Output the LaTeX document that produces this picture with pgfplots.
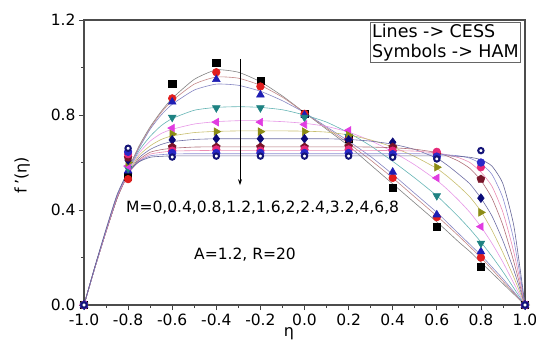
\documentclass[border=0pt]{standalone}
\usepackage{pgfplots}
\pgfplotsset{compat=1.18}
\usepackage{pgfplotstable}
\usepackage{fontspec}
\setmainfont{DejaVu Sans}
\usetikzlibrary{arrows.meta}

\definecolor{l0}{RGB}{130,130,130}
\definecolor{l1}{RGB}{195,135,135}
\definecolor{l2}{RGB}{135,135,195}
\definecolor{l3}{RGB}{100,180,180}
\definecolor{l4}{RGB}{230,150,230}
\definecolor{l5}{RGB}{200,190,110}
\definecolor{l6}{RGB}{110,110,165}
\definecolor{l7}{RGB}{175,110,120}
\definecolor{l8}{RGB}{235,140,180}
\definecolor{l9}{RGB}{140,140,210}
\definecolor{l10}{RGB}{100,100,150}

\definecolor{m0}{RGB}{0,0,0}
\definecolor{m1}{RGB}{225,30,30}
\definecolor{m2}{RGB}{30,30,180}
\definecolor{m3}{RGB}{30,130,130}
\definecolor{m4}{RGB}{225,60,225}
\definecolor{m5}{RGB}{140,140,20}
\definecolor{m6}{RGB}{10,10,120}
\definecolor{m7}{RGB}{120,20,40}
\definecolor{m8}{RGB}{230,40,120}
\definecolor{m9}{RGB}{40,40,200}
\definecolor{m10}{RGB}{20,20,120}

\pgfplotstableread{
x      c0    c1    c2    c3    c4    c5    c6    c7    c8    c9    c10
-1     0     0     0     0     0     0     0     0     0     0     0
-0.95  0.16  0.16  0.16  0.16  0.16  0.16  0.16  0.16  0.16  0.16  0.165
-0.9   0.31  0.31  0.31  0.31  0.31  0.31  0.31  0.31  0.31  0.315 0.32
-0.85  0.45  0.45  0.45  0.45  0.45  0.45  0.45  0.45  0.455 0.46  0.465
-0.8   0.57  0.57  0.565 0.56  0.56  0.555 0.55  0.55  0.55  0.555 0.56
-0.75  0.67  0.665 0.66  0.65  0.64  0.63  0.62  0.612 0.607 0.605 0.603
-0.7   0.75  0.745 0.74  0.71  0.69  0.67  0.655 0.643 0.635 0.628 0.622
-0.65  0.815 0.81  0.80  0.755 0.722 0.697 0.676 0.654 0.643 0.633 0.626
-0.6   0.87  0.86  0.845 0.785 0.74  0.712 0.688 0.66  0.648 0.636 0.628
-0.5   0.95  0.93  0.905 0.82  0.762 0.726 0.697 0.665 0.65  0.637 0.628
-0.4   0.99  0.96  0.93  0.832 0.772 0.731 0.70  0.666 0.651 0.637 0.628
-0.3   0.98  0.955 0.925 0.835 0.776 0.733 0.70  0.666 0.651 0.637 0.628
-0.2   0.94  0.925 0.90  0.832 0.776 0.733 0.70  0.666 0.651 0.637 0.628
-0.1   0.88  0.875 0.86  0.822 0.772 0.733 0.70  0.666 0.651 0.637 0.628
0      0.81  0.81  0.81  0.80  0.765 0.732 0.70  0.666 0.651 0.637 0.628
0.1    0.74  0.745 0.75  0.77  0.752 0.728 0.70  0.666 0.651 0.637 0.628
0.2    0.67  0.68  0.69  0.725 0.728 0.716 0.697 0.666 0.651 0.637 0.628
0.3    0.59  0.61  0.625 0.67  0.692 0.695 0.69  0.665 0.651 0.637 0.628
0.4    0.51  0.535 0.55  0.605 0.645 0.665 0.677 0.662 0.65  0.637 0.628
0.5    0.43  0.455 0.47  0.535 0.59  0.625 0.655 0.656 0.648 0.637 0.628
0.6    0.35  0.375 0.39  0.46  0.525 0.575 0.618 0.642 0.64  0.635 0.628
0.65   0.308 0.333 0.345 0.416 0.485 0.54  0.587 0.626 0.632 0.632 0.628
0.7    0.265 0.29  0.30  0.37  0.44  0.50  0.55  0.605 0.62  0.628 0.626
0.75   0.225 0.245 0.255 0.32  0.39  0.455 0.51  0.575 0.60  0.618 0.622
0.8    0.18  0.20  0.21  0.265 0.33  0.395 0.45  0.525 0.56  0.595 0.612
0.85   0.135 0.15  0.16  0.205 0.26  0.315 0.375 0.45  0.50  0.55  0.585
0.9    0.09  0.10  0.11  0.14  0.18  0.22  0.27  0.335 0.39  0.45  0.51
0.95   0.045 0.05  0.055 0.07  0.09  0.115 0.145 0.18  0.22  0.27  0.33
1      0     0     0     0     0     0     0     0     0     0     0
}\linetab

\pgfplotstableread{
x     s0    s1    s2    s3    s4    s5    s6    s7    s8    s9    s10
-1    0     0     0     0     0     0     0     0     0     0     0
-0.8  0.54  0.53  0.565 0.575 0.585 0.60  0.61  0.62  0.635 0.645 0.66
-0.6  0.93  0.87  0.855 0.79  0.745 0.72  0.695 0.665 0.65  0.64  0.623
-0.4  1.02  0.98  0.95  0.83  0.77  0.73  0.70  0.665 0.655 0.64  0.627
-0.2  0.945 0.92  0.885 0.83  0.77  0.73  0.70  0.665 0.65  0.64  0.627
0     0.805 0.805 0.80  0.79  0.76  0.73  0.70  0.665 0.655 0.64  0.627
0.2   0.70  0.70  0.705 0.71  0.735 0.715 0.695 0.668 0.655 0.64  0.627
0.4   0.495 0.535 0.56  0.64  0.655 0.665 0.685 0.665 0.65  0.635 0.622
0.6   0.33  0.37  0.38  0.46  0.535 0.58  0.62  0.635 0.645 0.625 0.615
0.8   0.16  0.20  0.225 0.26  0.33  0.39  0.45  0.53  0.58  0.60  0.65
1     0     0     0     0     0     0     0     0     0     0     0
}\symtab

\begin{document}
\begin{tikzpicture}
\begin{axis}[
  scale only axis, width=441pt, height=285pt,
  xmin=-1, xmax=1, ymin=0, ymax=1.2,
  xtick={-1,-0.8,-0.6,-0.4,-0.2,0,0.2,0.4,0.6,0.8,1},
  ytick={0,0.4,0.8,1.2},
  minor x tick num=1, minor y tick num=1,
  tick align=outside, xtick pos=bottom, ytick pos=left,
  major tick length=5pt, minor tick length=3pt,
  tick style={black!75, line width=0.8pt},
  axis line style={black!70, line width=1.1pt},
  /pgf/number format/.cd, fixed, fixed zerofill, precision=1, assume math mode=true,
  /pgfplots/.cd,
  tick label style={font=\fontsize{15.5}{18}\selectfont},
  xlabel={η}, ylabel={f\,'(η)},
  label style={font=\fontsize{16}{18}\selectfont},
  xlabel style={at={(axis description cs:0.465,-0.1)}, anchor=center},
  ylabel style={at={(axis description cs:-0.14,0.456)}, anchor=center},
  every axis plot/.append style={line width=0.6pt},
]
\coordinate (ll) at (rel axis cs:0,0);
\coordinate (ur) at (rel axis cs:1,1);

\addplot[l0, smooth, tension=0.35, no markers] table[x=x,y=c0]{\linetab};
\addplot[l1, smooth, tension=0.35, no markers] table[x=x,y=c1]{\linetab};
\addplot[l2, smooth, tension=0.35, no markers] table[x=x,y=c2]{\linetab};
\addplot[l3, smooth, tension=0.35, no markers] table[x=x,y=c3]{\linetab};
\addplot[l4, smooth, tension=0.35, no markers] table[x=x,y=c4]{\linetab};
\addplot[l5, smooth, tension=0.35, no markers] table[x=x,y=c5]{\linetab};
\addplot[l6, smooth, tension=0.35, no markers] table[x=x,y=c6]{\linetab};
\addplot[l7, smooth, tension=0.35, no markers] table[x=x,y=c7]{\linetab};
\addplot[l8, smooth, tension=0.35, no markers] table[x=x,y=c8]{\linetab};
\addplot[l9, smooth, tension=0.35, no markers] table[x=x,y=c9]{\linetab};
\addplot[l10, smooth, tension=0.35, no markers] table[x=x,y=c10]{\linetab};

\addplot[only marks, mark=square*, mark size=3.6pt, mark options={fill=m0, draw=m0}] table[x=x,y=s0]{\symtab};
\addplot[only marks, mark=*, mark size=3.8pt, mark options={fill=m1, draw=m1}] table[x=x,y=s1]{\symtab};
\addplot[only marks, mark=triangle*, mark size=4.4pt, mark options={fill=m2, draw=m2}] table[x=x,y=s2]{\symtab};
\addplot[only marks, mark=triangle*, mark size=4.4pt, mark options={fill=m3, draw=m3, rotate=180}] table[x=x,y=s3]{\symtab};
\addplot[only marks, mark=triangle*, mark size=4.4pt, mark options={fill=m4, draw=m4, rotate=90}] table[x=x,y=s4]{\symtab};
\addplot[only marks, mark=triangle*, mark size=4.4pt, mark options={fill=m5, draw=m5, rotate=-90}] table[x=x,y=s5]{\symtab};
\addplot[only marks, mark=diamond*, mark size=4.4pt, mark options={fill=m6, draw=m6}] table[x=x,y=s6]{\symtab};
\addplot[only marks, mark=pentagon*, mark size=4.1pt, mark options={fill=m7, draw=m7}] table[x=x,y=s7]{\symtab};
\addplot[only marks, mark=*, mark size=3.8pt, mark options={fill=m8, draw=m8}] table[x=x,y=s8]{\symtab};
\addplot[only marks, mark=*, mark size=3.8pt, mark options={fill=m9, draw=m9}] table[x=x,y=s9]{\symtab};
\addplot[only marks, mark=*, mark size=2.7pt, mark options={fill=white, draw=m10, line width=2pt}] table[x=x,y=s10]{\symtab};

\draw[black, line width=0.7pt, -{Stealth[length=6pt, width=4pt]}] (axis cs:-0.2925,1.036) -- (axis cs:-0.2925,0.505);
\node[font=\fontsize{15.5}{18}\selectfont, anchor=center] at (axis cs:-0.19,0.41) {M=0,0.4,0.8,1.2,1.6,2,2.4,3.2,4,6,8};
\node[font=\fontsize{15.5}{18}\selectfont, anchor=center] at (axis cs:-0.27,0.21) {A=1.2, R=20};
\node[draw=black!60, line width=0.6pt, fill=white, anchor=north east, align=left, inner sep=2pt,
      font=\fontsize{17.5}{19.5}\selectfont] at ([shift={(-4pt,-2pt)}]rel axis cs:1,1) {Lines -> CESS\\Symbols -> HAM};
\end{axis}
\pgfresetboundingbox
\useasboundingbox ([shift={(-84pt,-40pt)}]ll) rectangle ([shift={(11pt,20pt)}]ur);
\end{tikzpicture}
\end{document}
